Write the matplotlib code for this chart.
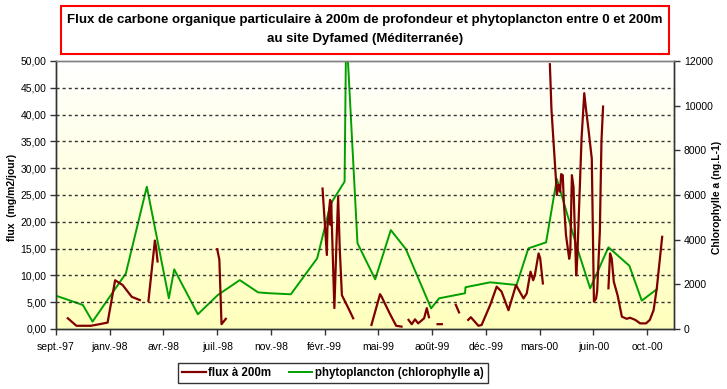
import numpy as np
import matplotlib
matplotlib.use("Agg")
import matplotlib.pyplot as plt
from matplotlib.patches import Rectangle
from matplotlib.ticker import FuncFormatter, FixedLocator
from matplotlib.lines import Line2D

nan = np.nan

# days since ~30 Sept 1997
flux_days = [22, 38, 65, 81, 96, 110, 124, 141, 156, nan,
             172, 184, 186, 189, nan,
             300, 304, 308, 316, nan,
             496, 504, 505, 510, 511, 512, 518, 522, 525, 528, 532, 544, 553, nan,
             587, 603, 606, 621, 633, 643, nan,
             656, 662, 668, 674, 685, 690, 694, nan,
             710, 718, nan,
             744, 750, nan,
             767, 772, 786, 792, 808, 820, 829, 842, 856, 870, 876, 883, 888, 891, 898, 901, 906, nan,
             919, 922, 925, 930, 932, 935, 938, 940, 943, 945, 949, 955, 957, 960, 963, 968, 970,
             978, 983, 986, 991, 997, 1001, 1005, 1007, 1012, 1015, 1018, nan,
             1028, 1031, 1034, 1038, 1045, 1053, 1062, 1068, 1078, 1087, 1098, 1105, 1112, 1118, 1128]
flux_vals = [2.0, 0.6, 0.6, 0.9, 1.2, 9.1, 8.2, 6.0, 5.4, nan,
             5.2, 16.5, 15.4, 12.6, nan,
             14.9, 12.9, 0.9, 1.9, nan,
             26.2, 13.8, 18.8, 24.1, 19.4, 23.8, 3.9, 16.3, 24.7, 15.0, 6.3, 3.9, 2.0, nan,
             0.75, 6.5, 6.0, 2.9, 0.6, 0.45, nan,
             1.7, 0.9, 1.8, 1.05, 2.0, 3.9, 2.2, nan,
             0.9, 0.9, nan,
             4.5, 3.1, nan,
             1.7, 2.2, 0.6, 0.75, 4.5, 7.9, 7.0, 3.5, 8.2, 5.7, 6.65, 10.7, 9.1, 10.0, 14.1, 13.2, 8.5, nan,
             49.4, 40.9, 36.2, 28.4, 25.0, 26.9, 25.6, 28.9, 28.7, 23.7, 17.5, 13.1, 14.4, 28.7, 26.5, 10.0, 13.2,
             35.6, 44.0, 41.2, 37.1, 31.8, 5.1, 5.7, 7.0, 18.2, 35.0, 41.5, nan,
             7.6, 14.1, 13.2, 8.8, 6.3, 2.3, 1.9, 2.1, 1.7, 1.05, 1.05, 1.7, 3.5, 7.6, 17.2]

chl_days = [0, 50, 68, 130, 169, 210, 220, 264, 301, 342, 376, 398, 437, 486, 511, 537, 540,
            561, 594, 623, 651, 698, 713, 761, 762, 808, 857, 879, 912, 932, 970, 994, 1028,
            1067, 1090, 1118]
chl_vals = [1490, 1075, 330, 2490, 6370, 1375, 2670, 660, 1520, 2190, 1640, 1600, 1555, 3165, 5600, 6600, 13500,
            3840, 2225, 4430, 3580, 925, 1375, 1600, 1870, 2090, 1970, 3610, 3880, 6720, 3610, 1820, 3660,
            2830, 1270, 1780]

tick_days = [0, 100, 200, 300, 400, 500, 600, 700, 800, 900, 1000, 1100]
tick_labels = ["sept.-97", "janv.-98", "avr.-98", "juil.-98", "nov.-98", "févr.-99",
               "mai-99", "août-99", "déc.-99", "mars-00", "juin-00", "oct.-00"]

title_lines = ["Flux de carbone organique particulaire à 200m de profondeur et phytoplancton entre 0 et 200m",
               "au site Dyfamed (Méditerranée)"]

plt.rcParams['font.family'] = ['Liberation Sans', 'DejaVu Sans']

W, H = 727, 389
fig = plt.figure(figsize=(W / 100, H / 100), dpi=100)
fig.patch.set_facecolor('white')

ax = fig.add_axes([56 / W, 1 - 329 / H, (674 - 56) / W, (329 - 61) / H])
ax2 = ax.twinx()
ax.set_zorder(2)
ax2.set_zorder(1)
ax.patch.set_visible(False)

# gradient background
grad = np.linspace(0, 1, 256).reshape(-1, 1)
top = np.array([1.0, 1.0, 1.0])
bot = np.array([1.0, 1.0, 0.74])
img = top[None, None, :] * (1 - grad[:, :, None]) + bot[None, None, :] * grad[:, :, None]
ax2.imshow(img, extent=[0, 1, 0, 1], transform=ax2.transAxes, aspect='auto', zorder=0,
           interpolation='bilinear')

# gridlines
for v in range(5, 50, 5):
    ax.axhline(v, color='#333333', lw=1.0, ls=(0, (2.2, 2.2)), zorder=0.5)

ax2.plot(chl_days, chl_vals, color='#00A000', lw=1.4, zorder=3)
ax.plot(flux_days, flux_vals, color='#800000', lw=1.6, zorder=3)

ax.set_xlim(0, 1150)
ax.set_ylim(0, 50)
ax2.set_ylim(0, 12000)
ax2.set_xlim(0, 1150)

ax.xaxis.set_major_locator(FixedLocator(tick_days))
ax.set_xticklabels(tick_labels)
ax.yaxis.set_major_locator(FixedLocator(list(range(0, 55, 5))))
ax.yaxis.set_major_formatter(FuncFormatter(lambda v, p: f"{v:.2f}".replace('.', ',')))
ax2.yaxis.set_major_locator(FixedLocator(list(range(0, 14000, 2000))))

for a in (ax, ax2):
    a.tick_params(axis='both', which='major', labelsize=7.5, direction='out', length=4, width=1,
                  color='#333333', pad=3)
    for s in a.spines.values():
        s.set_color('#333333')
        s.set_linewidth(1)
    a.spines['top'].set_color('#808080')
ax2.tick_params(axis='x', bottom=False, labelbottom=False)
ax.tick_params(axis='x', pad=5)

fig.text(12 / W, 1 - 197 / H, "flux  (mg/m2/jour)", rotation=90, ha='center', va='center',
         fontsize=7.5, fontweight='bold')
fig.text(717 / W, 1 - 197 / H, "Chlorophylle a (ng.L-1)", rotation=90, ha='center', va='center',
         fontsize=7.5, fontweight='bold')

# title box
fig.patches.append(Rectangle((61 / W, 1 - 54 / H), 608 / W, 48 / H, transform=fig.transFigure,
                             facecolor='white', edgecolor='#FF0000', lw=1.5, zorder=5))
fig.text(365 / W, 1 - 20 / H, title_lines[0], ha='center', va='center', fontsize=9.5,
         fontweight='bold', zorder=6)
fig.text(365 / W, 1 - 39 / H, title_lines[1], ha='center', va='center', fontsize=9.5,
         fontweight='bold', zorder=6)

handles = [Line2D([], [], color='#800000', lw=1.6), Line2D([], [], color='#00A000', lw=1.4)]
leg = fig.legend(handles, ["flux à 200m", "phytoplancton (chlorophylle a)"], loc='center',
                 bbox_to_anchor=(333 / W, 1 - 373 / H), ncol=2, frameon=True, fancybox=False,
                 edgecolor='black', prop={'size': 8.3, 'weight': 'bold'}, handlelength=2.0,
                 columnspacing=1.6, borderpad=0.35, handletextpad=0.2)
leg.get_frame().set_linewidth(1)

fig.savefig("out.png", dpi=100)
